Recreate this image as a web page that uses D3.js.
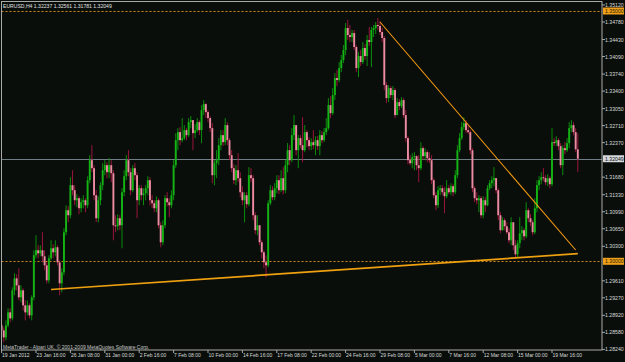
<!DOCTYPE html>
<html>
<head>
<meta charset="utf-8">
<script src="https://cdnjs.cloudflare.com/ajax/libs/d3/7.8.5/d3.min.js"></script>
<style>
  body { margin: 0; background: #0a0e0b; }
  svg { display: block; }
</style>
</head>
<body>
<svg width="625" height="362"></svg>
<script>
// EURUSD H4, one value per bar
var firstOpen = 1.2872;
var closes = [
  1.2862,1.2848,1.2872,1.2898,1.2886,1.2942,1.2966,1.2952,1.2928,1.2942,1.2912,1.2898,1.2912,1.2892,1.2928,1.3012,
  1.3022,1.3016,1.3022,1.3010,1.2992,1.2962,1.3006,1.3026,1.3018,1.3028,1.2998,1.2956,1.2978,1.3058,1.3102,1.3092,
  1.3152,1.3142,1.3122,1.3126,1.3106,1.3118,1.3122,1.3112,1.3162,1.3202,1.3186,1.3132,1.3086,1.3122,1.3152,1.3182,
  1.3192,1.3178,1.3192,1.3176,1.3072,1.3070,1.3086,1.3072,1.3138,1.3170,1.3202,1.3178,1.3142,1.3186,1.3172,1.3122,
  1.3146,1.3132,1.3136,1.3146,1.3162,1.3122,1.3116,1.3106,1.3122,1.3072,1.3038,1.3072,1.3126,1.3118,1.3112,1.3132,
  1.3192,1.3242,1.3258,1.3242,1.3246,1.3262,1.3252,1.3278,1.3282,1.3256,1.3262,1.3278,1.3262,1.3302,1.3314,1.3298,
  1.3286,1.3266,1.3172,1.3196,1.3202,1.3232,1.3252,1.3238,1.3272,1.3242,1.3212,1.3186,1.3162,1.3182,1.3166,1.3138,
  1.3122,1.3132,1.3114,1.3172,1.3166,1.3092,1.3062,1.3072,1.3038,1.3018,1.2998,1.2992,1.3116,1.3142,1.3128,1.3146,
  1.3162,1.3142,1.3166,1.3142,1.3192,1.3222,1.3202,1.3252,1.3272,1.3222,1.3246,1.3232,1.3222,1.3258,1.3242,1.3230,
  1.3238,1.3232,1.3242,1.3230,1.3252,1.3242,1.3258,1.3266,1.3312,1.3296,1.3332,1.3366,1.3362,1.3386,1.3402,1.3422,
  1.3466,1.3452,1.3448,1.3456,1.3428,1.3386,1.3410,1.3398,1.3426,1.3410,1.3442,1.3438,1.3462,1.3466,1.3472,1.3470,
  1.3458,1.3446,1.3352,1.3326,1.3346,1.3332,1.3342,1.3292,1.3318,1.3310,1.3322,1.3292,1.3246,1.3202,1.3196,1.3208,
  1.3210,1.3192,1.3186,1.3226,1.3210,1.3218,1.3206,1.3202,1.3162,1.3132,1.3112,1.3142,1.3146,1.3138,1.3130,1.3146,
  1.3138,1.3150,1.3138,1.3172,1.3222,1.3246,1.3268,1.3276,1.3262,1.3258,1.3222,1.3146,1.3126,1.3122,1.3126,1.3092,
  1.3122,1.3112,1.3146,1.3156,1.3162,1.3166,1.3142,1.3092,1.3062,1.3082,1.3070,1.3058,1.3042,1.3078,1.3032,1.3014,
  1.3036,1.3056,1.3062,1.3050,1.3102,1.3086,1.3078,1.3058,1.3106,1.3152,1.3162,1.3168,1.3166,1.3158,1.3166,1.3154,
  1.3238,1.3236,1.3242,1.3230,1.3192,1.3226,1.3222,1.3236,1.3266,1.3272,1.3258,1.32237,1.32049
];
var highs = [
  1.2878,1.2868,1.2882,1.2906,1.2906,1.2948,1.2976,1.2974,1.2986,1.2952,1.2946,1.2922,1.2922,1.2916,1.2932,1.3022,
  1.3052,1.3032,1.3032,1.3058,1.3022,1.2998,1.3012,1.3042,1.3034,1.3042,1.3032,1.3002,1.2986,1.3066,1.3112,1.3110,
  1.3168,1.3182,1.3152,1.3134,1.3130,1.3126,1.3132,1.3126,1.3170,1.3212,1.3232,1.3192,1.3142,1.3130,1.3158,1.3196,
  1.3202,1.3198,1.3206,1.3202,1.3182,1.3092,1.3094,1.3092,1.3146,1.3182,1.3212,1.3222,1.3186,1.3192,1.3196,1.3178,
  1.3152,1.3152,1.3146,1.3152,1.3170,1.3168,1.3132,1.3122,1.3130,1.3126,1.3078,1.3082,1.3132,1.3138,1.3126,1.3142,
  1.3202,1.3256,1.3266,1.3268,1.3286,1.3272,1.3266,1.3286,1.3290,1.3282,1.3274,1.3286,1.3282,1.3312,1.3322,1.3316,
  1.3302,1.3290,1.3276,1.3202,1.3222,1.3246,1.3262,1.3262,1.3286,1.3278,1.3246,1.3222,1.3194,1.3192,1.3216,1.3178,
  1.3150,1.3138,1.3138,1.3188,1.3186,1.3172,1.3098,1.3092,1.3072,1.3042,1.3022,1.3012,1.3122,1.3152,1.3150,1.3156,
  1.3172,1.3172,1.3182,1.3188,1.3202,1.3236,1.3232,1.3266,1.3292,1.3266,1.3252,1.3252,1.3288,1.3272,1.3262,1.3248,
  1.3246,1.3262,1.3250,1.3250,1.3262,1.3260,1.3266,1.3286,1.3326,1.3330,1.3346,1.3376,1.3382,1.3398,1.3412,1.3432,
  1.3476,1.3482,1.3472,1.3462,1.3462,1.3432,1.3418,1.3422,1.3438,1.3434,1.3452,1.3468,1.3468,1.3472,1.3478,1.3486,
  1.3480,1.3466,1.3450,1.3358,1.3352,1.3350,1.3350,1.3346,1.3326,1.3324,1.3328,1.3326,1.3302,1.3250,1.3212,1.3216,
  1.3218,1.3212,1.3212,1.3238,1.3230,1.3226,1.3222,1.3218,1.3212,1.3166,1.3138,1.3150,1.3152,1.3152,1.3148,1.3162,
  1.3152,1.3156,1.3154,1.3182,1.3232,1.3256,1.3278,1.3288,1.3282,1.3272,1.3262,1.3226,1.3150,1.3138,1.3132,1.3130,
  1.3130,1.3128,1.3152,1.3162,1.3170,1.3188,1.3166,1.3146,1.3098,1.3088,1.3086,1.3078,1.3066,1.3088,1.3078,1.3042,
  1.3042,1.3088,1.3070,1.3066,1.3118,1.3106,1.3094,1.3082,1.3126,1.3162,1.3170,1.3178,1.3186,1.3172,1.3174,1.3170,
  1.3266,1.3246,1.3250,1.3246,1.3236,1.3232,1.3238,1.3246,1.3278,1.3282,1.3278,1.3266,1.32561
];
var lows = [
  1.2852,1.2838,1.2842,1.2868,1.2878,1.2882,1.2932,1.2942,1.2922,1.2918,1.2902,1.2882,1.2892,1.2886,1.2882,1.2922,
  1.3006,1.3006,1.3010,1.2998,1.2982,1.2956,1.2956,1.3002,1.3006,1.3010,1.2992,1.2932,1.2938,1.2972,1.3052,1.3078,
  1.3086,1.3132,1.3112,1.3108,1.3094,1.3098,1.3106,1.3098,1.3106,1.3156,1.3178,1.3122,1.3078,1.3078,1.3112,1.3142,
  1.3172,1.3166,1.3166,1.3158,1.3042,1.3058,1.3062,1.3062,1.3026,1.3130,1.3162,1.3170,1.3132,1.3138,1.3162,1.3086,
  1.3112,1.3122,1.3112,1.3122,1.3132,1.3112,1.3106,1.3098,1.3098,1.3066,1.3028,1.3032,1.3066,1.3110,1.3088,1.3106,
  1.3122,1.3186,1.3222,1.3232,1.3238,1.3242,1.3242,1.3248,1.3266,1.3222,1.3246,1.3258,1.3252,1.3236,1.3292,1.3286,
  1.3278,1.3258,1.3156,1.3152,1.3166,1.3192,1.3222,1.3230,1.3232,1.3232,1.3202,1.3178,1.3154,1.3152,1.3158,1.3128,
  1.3112,1.3078,1.3106,1.3110,1.3158,1.3082,1.3054,1.3052,1.3032,1.3006,1.2986,1.2968,1.2988,1.3112,1.3122,1.3122,
  1.3136,1.3134,1.3138,1.3134,1.3136,1.3178,1.3192,1.3198,1.3242,1.3212,1.3186,1.3226,1.3198,1.3218,1.3228,1.3222,
  1.3222,1.3224,1.3212,1.3222,1.3212,1.3236,1.3238,1.3252,1.3262,1.3286,1.3292,1.3322,1.3350,1.3358,1.3378,1.3396,
  1.3412,1.3442,1.3438,1.3438,1.3422,1.3378,1.3368,1.3390,1.3394,1.3402,1.3390,1.3430,1.3388,1.3448,1.3454,1.3462,
  1.3452,1.3438,1.3342,1.3316,1.3318,1.3326,1.3322,1.3286,1.3298,1.3302,1.3306,1.3286,1.3238,1.3194,1.3192,1.3186,
  1.3182,1.3182,1.3158,1.3182,1.3202,1.3202,1.3198,1.3196,1.3154,1.3126,1.3102,1.3106,1.3132,1.3132,1.3096,1.3126,
  1.3134,1.3132,1.3130,1.3134,1.3166,1.3218,1.3242,1.3262,1.3256,1.3254,1.3214,1.3138,1.3118,1.3114,1.3098,1.3086,
  1.3086,1.3098,1.3110,1.3142,1.3146,1.3150,1.3136,1.3082,1.3056,1.3062,1.3062,1.3054,1.3036,1.3032,1.3022,1.3006,
  1.3008,1.3026,1.3042,1.3042,1.3046,1.3078,1.3070,1.3052,1.3054,1.3098,1.3142,1.3154,1.3160,1.3152,1.3150,1.3146,
  1.3150,1.3230,1.3230,1.3222,1.3186,1.3172,1.3214,1.3218,1.3226,1.3258,1.3252,1.3218,1.31781
];

// one label every 16 bars
var timeLabels = ['19 Jan 2012','23 Jan 16:00','26 Jan 08:00','31 Jan 00:00','2 Feb 16:00','7 Feb 08:00',
  '10 Feb 00:00','14 Feb 16:00','17 Feb 08:00','22 Feb 00:00','24 Feb 16:00','29 Feb 08:00',
  '5 Mar 00:00','7 Mar 16:00','12 Mar 08:00','15 Mar 00:00','19 Mar 16:00'];
var priceTicks = [1.35120,1.34780,1.34430,1.34090,1.33740,1.33400,1.33050,1.32710,1.32370,
  1.31680,1.31330,1.30990,1.30650,1.30300,1.29610,1.29270,1.28920,1.28580,1.28240];
var levels = [1.35000, 1.30000];   // dashed horizontal lines
var bid = 1.32049;
var trendUp = [[23, 1.29437], [268, 1.30152]];
var trendDown = [[176, 1.34780], [267, 1.30226]];
var title = 'EURUSD,H4  1.32237 1.32561 1.31781 1.32049';

var bars = closes.map((c, i) => ({
  i: i,
  o: i == 0 ? firstOpen : closes[i-1],
  h: highs[i], l: lows[i], c: c
}));

var plot = {left: 1.5, right: 602, top: 1.5, bottom: 350};

//scales
var xScale = d3.scaleLinear().domain([0, 256]).range([1.6, 552]);
var yScale = d3.scaleLinear().domain([1.30, 1.35]).range([261.3, 11]);

var svg = d3.select('svg');
svg.append('rect').attr('width', 625).attr('height', 362).attr('fill', '#0a0e0b');

svg.append('clipPath').attr('id', 'clip')
  .append('rect')
  .attr('x', plot.left).attr('y', plot.top)
  .attr('width', plot.right - plot.left).attr('height', plot.bottom - plot.top);

var g = svg.append('g').attr('clip-path', 'url(#clip)');

// level lines
g.selectAll('.level').data(levels).enter().append('line')
  .attr('x1', plot.left).attr('x2', plot.right)
  .attr('y1', d => Math.round(yScale(d)) + 0.5).attr('y2', d => Math.round(yScale(d)) + 0.5)
  .attr('stroke', '#d08a1a').attr('stroke-width', 1).attr('stroke-dasharray', '2,2');

g.append('line')
  .attr('x1', plot.left).attr('x2', plot.right)
  .attr('y1', Math.round(yScale(bid)) + 0.5).attr('y2', Math.round(yScale(bid)) + 0.5)
  .attr('stroke', '#6f7d85').attr('stroke-width', 1);

// candles
var bull = d => d.c >= d.o;
g.selectAll('.wick').data(bars).enter().append('line')
  .attr('x1', d => xScale(d.i)).attr('x2', d => xScale(d.i))
  .attr('y1', d => yScale(Math.max(d.h, d.o, d.c)))
  .attr('y2', d => yScale(Math.min(d.l, d.o, d.c)))
  .attr('stroke', d => bull(d) ? '#0a9a0a' : '#a8163f')
  .attr('stroke-width', 0.9);

g.selectAll('.body').data(bars).enter().append('rect')
  .attr('x', d => xScale(d.i) - 0.95)
  .attr('width', 1.9)
  .attr('y', d => yScale(Math.max(d.o, d.c)))
  .attr('height', d => Math.max(0.8, yScale(Math.min(d.o, d.c)) - yScale(Math.max(d.o, d.c))))
  .attr('fill', d => bull(d) ? '#14b414' : '#ec8ca2');

// trend lines
var line = d3.line().x(d => xScale(d[0])).y(d => yScale(d[1]));
g.append('path').attr('d', line(trendUp))
  .attr('fill', 'none').attr('stroke', '#eea010').attr('stroke-width', 1.7);
g.append('path').attr('d', line(trendDown))
  .attr('fill', 'none').attr('stroke', '#f49a10').attr('stroke-width', 1.1);

// frame
svg.append('rect')
  .attr('x', plot.left).attr('y', plot.top)
  .attr('width', plot.right - plot.left).attr('height', plot.bottom - plot.top)
  .attr('fill', 'none').attr('stroke', '#a8aaa8').attr('stroke-width', 1);

var font = 'Liberation Sans, Arial, sans-serif';

// price axis
svg.selectAll('.ptick').data(priceTicks).enter().append('line')
  .attr('x1', plot.right).attr('x2', plot.right + 3)
  .attr('y1', d => yScale(d)).attr('y2', d => yScale(d))
  .attr('stroke', '#a8aaa8');
svg.selectAll('.plabel').data(priceTicks).enter().append('text')
  .attr('x', 605).attr('y', d => yScale(d) + 2)
  .attr('font-family', font).attr('font-size', 5.2)
  .attr('fill', '#d8dad8')
  .text(d => d.toFixed(5));

// highlighted price labels
var marks = levels.map(v => ({v: v, bg: '#f0a018', fg: '#2a1a00'}))
  .concat([{v: bid, bg: '#d4d8dc', fg: '#101010'}]);
svg.selectAll('.mark').data(marks).enter().append('rect')
  .attr('x', 603).attr('y', d => yScale(d.v) - 3.5)
  .attr('width', 21).attr('height', 7)
  .attr('fill', d => d.bg);
svg.selectAll('.marktext').data(marks).enter().append('text')
  .attr('x', 605).attr('y', d => yScale(d.v) + 2)
  .attr('font-family', font).attr('font-size', 5.2)
  .attr('fill', d => d.fg)
  .text(d => d.v.toFixed(5));

// time axis
svg.selectAll('.ttick').data(timeLabels).enter().append('line')
  .attr('x1', (d, i) => xScale(i * 16)).attr('x2', (d, i) => xScale(i * 16))
  .attr('y1', plot.bottom).attr('y2', plot.bottom + 3)
  .attr('stroke', '#a8aaa8');
svg.selectAll('.tlabel').data(timeLabels).enter().append('text')
  .attr('x', (d, i) => xScale(i * 16) + 0.5).attr('y', 357)
  .attr('font-family', font).attr('font-size', 5)
  .attr('fill', '#d8dad8')
  .text(d => d);

// captions
svg.append('text').attr('x', 3).attr('y', 8)
  .attr('font-family', font).attr('font-size', 5.1)
  .attr('fill', '#e0e2e0').text(title);
svg.append('text').attr('x', 3).attr('y', 348.5)
  .attr('font-family', font).attr('font-size', 5)
  .attr('fill', '#c8cac8').text('MetaTrader - Alpari UK, \u00a9 2001-2009 MetaQuotes Software Corp.');
</script>
</body>
</html>
